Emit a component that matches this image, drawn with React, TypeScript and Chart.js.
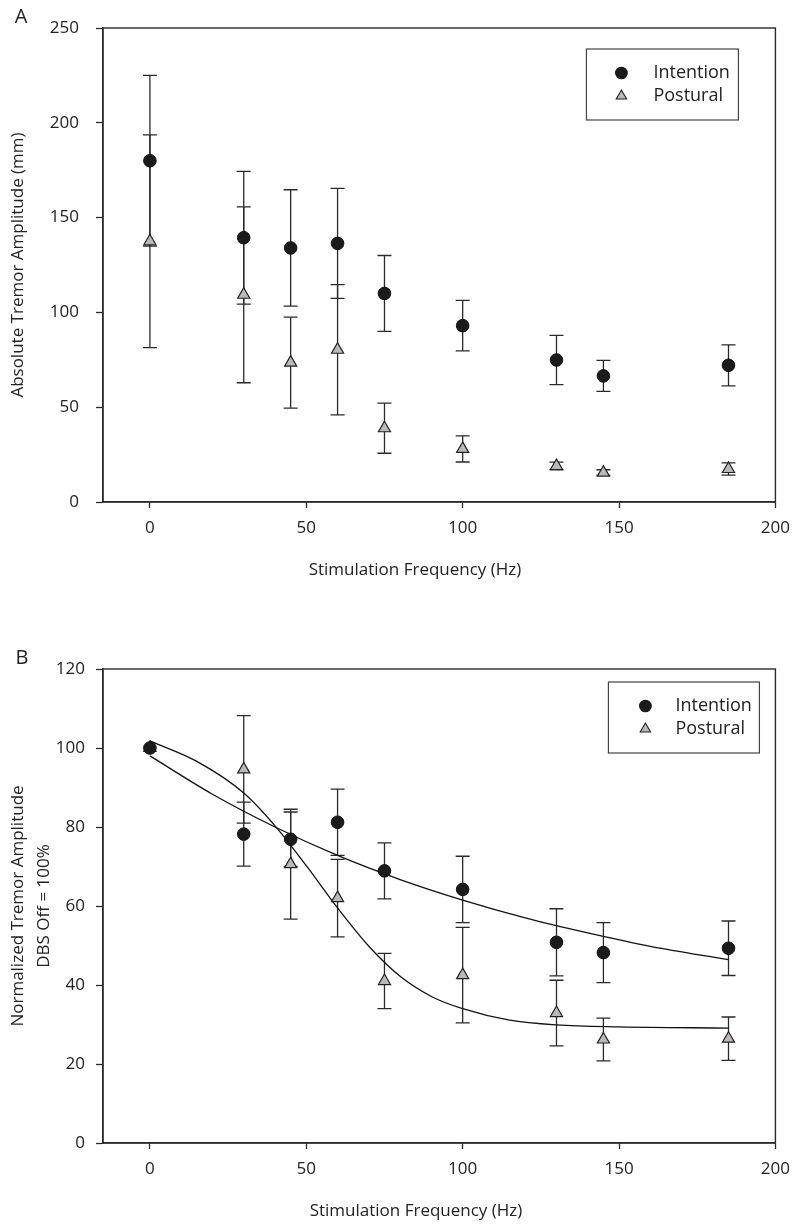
import React, { useEffect, useRef } from "react";
import { Chart, registerables } from "chart.js";
Chart.register(...registerables);

const FONT = "'Open Sans', 'Noto Sans', 'DejaVu Sans', sans-serif";

// ---------- data ----------
const frequencies = [0, 30, 45, 60, 75, 100, 130, 145, 185];

// Panel A: absolute tremor amplitude (mm)
const absIntentionMean = [180, 139.4, 134, 136.4, 110, 93, 74.9, 66.5, 72.1];
const absIntentionErr = [45, 35, 30.7, 29, 20, 13.3, 13, 8.2, 10.8];
const absPosturalMean = [137.5, 109.3, 73.5, 80.3, 38.9, 28, 19, 15.5, 17.4];
const absPosturalErr = [56.1, 46.4, 24, 34.3, 13.2, 6.9, 2, 1.5, 3.2];

// Panel B: normalized tremor amplitude (%)
const normIntentionMean = [100, 78.2, 76.9, 81.2, 68.9, 64.2, 50.8, 48.2, 49.3];
const normIntentionErr = [0, 8.1, 6.9, 8.4, 7.1, 8.4, 8.5, 7.6, 6.9];
const normPosturalMean = [100, 94.6, 70.6, 62, 41, 42.5, 32.9, 26.2, 26.4];
const normPosturalErr = [0, 13.6, 13.9, 9.8, 7, 12.1, 8.3, 5.4, 5.5];

// Fitted curves in panel B
const intentionFitX = [0, 20, 40, 60, 80, 100, 120, 140, 160, 185];
const intentionFitY = [98, 88.3, 80, 72.8, 66.7, 61.5, 57, 53.2, 49.8, 46.4];
const posturalFitX = [0, 15, 30, 40, 50, 60, 70, 80, 90, 100, 115, 130, 150, 185];
const posturalFitY = [101.8, 96.6, 88.6, 80.3, 70.2, 59.5, 49.8, 42.2, 37.1, 34, 31.1, 29.9, 29.4, 29.1];

const xTickValues = [0, 50, 100, 150, 200];
const yTicksA = [0, 50, 100, 150, 200, 250];
const yTicksB = [0, 20, 40, 60, 80, 100, 120];

const labelIntention = "Intention";
const labelPostural = "Postural";
const xTitleText = "Stimulation Frequency (Hz)";

// ---------- plugins ----------
const INK = "#2a2a2a";
const TEXT = "#222";
const FS = 17;

const framePlugin = {
  id: "frameAndErrors",
  beforeDatasetsDraw(chart: any) {
    const ctx = chart.ctx;
    const { left, right, top, bottom } = chart.chartArea;
    ctx.save();
    ctx.strokeStyle = INK;
    ctx.lineWidth = 1.4;
    ctx.strokeRect(left, top, right - left, bottom - top);
    const xs = chart.scales.x;
    const ys = chart.scales.y;
    ctx.lineWidth = 1.3;
    chart.data.datasets.forEach((ds: any) => {
      if (!ds.errors) return;
      ds.data.forEach((p: any, j: number) => {
        const e = ds.errors[j];
        if (!e) return;
        const x = xs.getPixelForValue(p.x);
        const y1 = ys.getPixelForValue(p.y + e);
        const y2 = ys.getPixelForValue(p.y - e);
        ctx.beginPath();
        ctx.moveTo(x, y1);
        ctx.lineTo(x, y2);
        ctx.moveTo(x - 7, y1);
        ctx.lineTo(x + 7, y1);
        ctx.moveTo(x - 7, y2);
        ctx.lineTo(x + 7, y2);
        ctx.stroke();
      });
    });
    ctx.restore();
  },
};

const boxLegendPlugin = {
  id: "boxLegend",
  afterDraw(chart: any, _args: any, opts: any) {
    const ctx = chart.ctx;
    const { right, top } = chart.chartArea;
    const bx = right - opts.rightGap - opts.width;
    const by = top + opts.topGap;
    ctx.save();
    ctx.fillStyle = "#fff";
    ctx.fillRect(bx, by, opts.width, opts.height);
    ctx.strokeStyle = "#444";
    ctx.lineWidth = 1.2;
    ctx.strokeRect(bx, by, opts.width, opts.height);
    const items = chart.data.datasets.filter((d: any) => d.inLegend);
    items.forEach((ds: any, i: number) => {
      const cy = by + opts.rows[i];
      const cx = bx + opts.markerX;
      ctx.fillStyle = ds.backgroundColor;
      ctx.strokeStyle = ds.borderColor;
      ctx.lineWidth = 1.1;
      ctx.beginPath();
      if (ds.pointStyle === "triangle") {
        const r = 6;
        ctx.moveTo(cx, cy - r);
        ctx.lineTo(cx + r * 0.866, cy + r / 2);
        ctx.lineTo(cx - r * 0.866, cy + r / 2);
        ctx.closePath();
      } else {
        ctx.arc(cx, cy, 5.8, 0, Math.PI * 2);
      }
      ctx.fill();
      ctx.stroke();
      ctx.fillStyle = TEXT;
      ctx.font = `18px ${FONT}`;
      ctx.textBaseline = "middle";
      ctx.textAlign = "left";
      ctx.fillText(ds.label, bx + opts.textX, cy);
    });
    ctx.restore();
  },
};

const textPlugin = {
  id: "extraText",
  afterDraw(chart: any, _args: any, opts: any) {
    const ctx = chart.ctx;
    ctx.save();
    ctx.fillStyle = TEXT;
    ctx.textAlign = "center";
    ctx.textBaseline = "middle";
    ctx.font = `20px ${FONT}`;
    ctx.fillText(opts.panel, opts.panelX, opts.panelY);
    ctx.font = `${FS}px ${FONT}`;
    ctx.fillText(opts.xTitle, opts.xTitleX, opts.xTitleY);
    ctx.restore();
  },
};

// ---------- config builder ----------
function pts(xs: number[], ys: number[]) {
  return xs.map((x, i) => ({ x, y: ys[i] }));
}

function makeConfig(p: any) {
  const datasets: any[] = [
    {
      type: "scatter",
      label: labelIntention,
      data: pts(frequencies, p.intMean),
      errors: p.intErr,
      inLegend: true,
      pointStyle: "circle",
      pointRadius: 6.3,
      backgroundColor: "#1b1b1b",
      borderColor: "#111",
      borderWidth: 1,
    },
    {
      type: "scatter",
      label: labelPostural,
      data: pts(frequencies, p.posMean),
      errors: p.posErr,
      inLegend: true,
      pointStyle: "triangle",
      pointRadius: 7,
      backgroundColor: "#bdb7b9",
      borderColor: "#222",
      borderWidth: 1.2,
    },
  ];
  (p.fits || []).forEach((f: any) => {
    datasets.push({
      type: "line",
      label: f.label,
      data: pts(f.x, f.y),
      borderColor: "#111",
      borderWidth: 1.3,
      pointRadius: 0,
      fill: false,
      cubicInterpolationMode: "monotone",
    });
  });

  return {
    type: "scatter",
    data: { datasets },
    options: {
      animation: false,
      responsive: false,
      devicePixelRatio: 1,
      events: [],
      layout: { padding: { left: 0, right: p.padRight, top: p.padTop, bottom: 0 } },
      plugins: {
        legend: { display: false },
        tooltip: { enabled: false },
        boxLegend: p.legend,
        extraText: p.text,
      },
      scales: {
        x: {
          type: "linear",
          min: -15,
          max: 200,
          afterBuildTicks: (s: any) => {
            s.ticks = xTickValues.map((v) => ({ value: v }));
          },
          afterFit: (s: any) => {
            s.height = p.xAxisHeight;
          },
          grid: { drawOnChartArea: false, drawTicks: true, tickLength: 6, tickWidth: 1.3, tickColor: INK },
          border: { display: true, color: INK, width: 1.4 },
          ticks: { font: { size: FS, family: FONT }, color: TEXT, padding: 10, maxRotation: 0 },
          title: { display: false },
        },
        y: {
          type: "linear",
          min: 0,
          max: p.yMax,
          afterBuildTicks: (s: any) => {
            s.ticks = p.yTicks.map((v: number) => ({ value: v }));
          },
          afterFit: (s: any) => {
            s.width = 103;
          },
          grid: { drawOnChartArea: false, drawTicks: true, tickLength: 7, tickWidth: 1.3, tickColor: INK },
          border: { display: true, color: INK, width: 1.4 },
          ticks: { font: { size: FS, family: FONT }, color: TEXT, padding: p.yTickPad },
          title: {
            display: true,
            text: p.yTitle,
            font: { size: FS, family: FONT, lineHeight: p.yTitleLH },
            color: TEXT,
            padding: { top: p.yTitlePad, bottom: 0 },
          },
        },
      },
    },
    plugins: [framePlugin, boxLegendPlugin, textPlugin],
  };
}

const configA = () =>
  makeConfig({
    intMean: absIntentionMean,
    intErr: absIntentionErr,
    posMean: absPosturalMean,
    posErr: absPosturalErr,
    yMax: 250,
    yTicks: yTicksA,
    yTitle: "Absolute Tremor Amplitude (mm)",
    yTitleLH: "20px",
    yTitlePad: 8,
    yTickPad: 17,
    padRight: 22,
    padTop: 28,
    xAxisHeight: 111,
    legend: { rightGap: 37, topGap: 21, width: 152, height: 71, markerX: 35, textX: 67, rows: [24, 47] },
    text: { panel: "A", panelX: 21, panelY: 17, xTitle: xTitleText, xTitleX: 415, xTitleY: 570 },
  });

const configB = () =>
  makeConfig({
    intMean: normIntentionMean,
    intErr: normIntentionErr,
    posMean: normPosturalMean,
    posErr: normPosturalErr,
    fits: [
      { label: "Intention fit", x: intentionFitX, y: intentionFitY },
      { label: "Postural fit", x: posturalFitX, y: posturalFitY },
    ],
    yMax: 120,
    yTicks: yTicksB,
    yTitle: ["Normalized Tremor Amplitude", "DBS Off = 100%"],
    yTitleLH: "26px",
    yTitlePad: 5,
    yTickPad: 11,
    padRight: 20,
    padTop: 56,
    xAxisHeight: 83,
    legend: { rightGap: 16, topGap: 13, width: 151, height: 71, markerX: 37, textX: 67, rows: [24, 47] },
    text: { panel: "B", panelX: 22, panelY: 45, xTitle: xTitleText, xTitleX: 416, xTitleY: 598 },
  });

function ChartPanel({ make, top, height }: { make: () => any; top: number; height: number }) {
  const ref = useRef<HTMLCanvasElement>(null);
  useEffect(() => {
    Chart.defaults.font.family = FONT;
    const chart = new Chart(ref.current as HTMLCanvasElement, make());
    return () => chart.destroy();
  }, []);
  return (
    <canvas
      ref={ref}
      width={800}
      height={height}
      style={{ position: "absolute", left: 0, top, width: 800, height, display: "block" }}
    />
  );
}

export default function App() {
  return (
    <div style={{ position: "absolute", left: 0, top: 0, width: 800, height: 1226, background: "#fff" }}>
      <ChartPanel make={configA} top={0} height={613} />
      <ChartPanel make={configB} top={613} height={613} />
    </div>
  );
}
